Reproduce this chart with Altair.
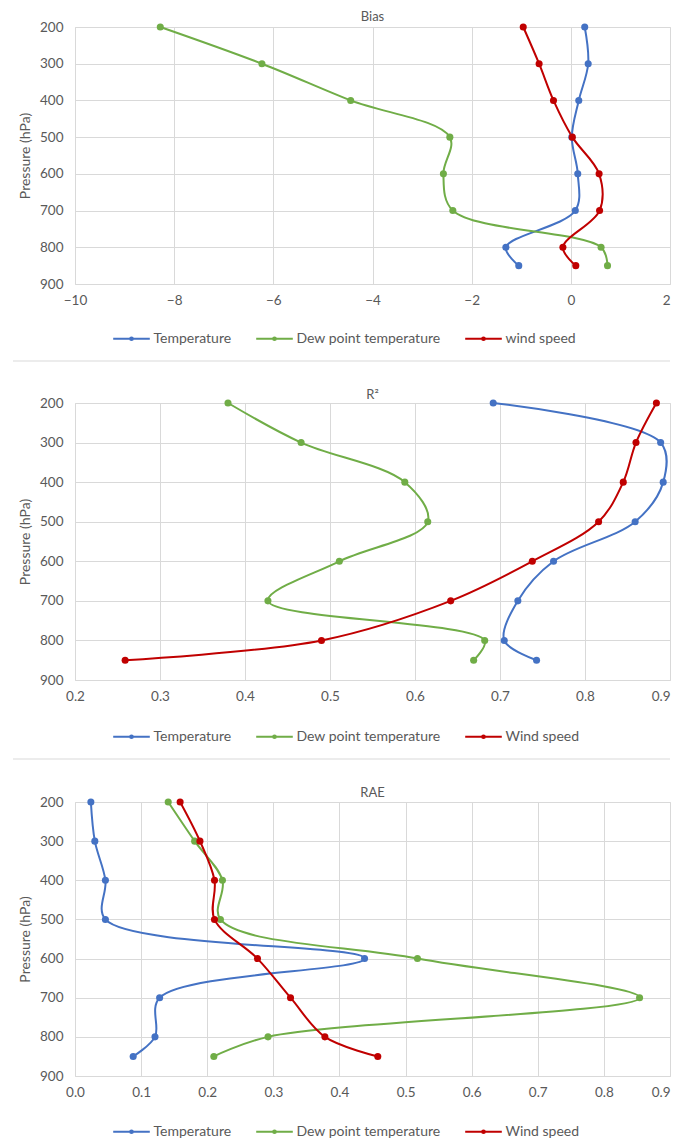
import altair as alt
import pandas as pd

pressure = [200, 300, 400, 500, 600, 700, 800, 850]

bias_temp = [0.28, 0.35, 0.16, 0.02, 0.14, 0.09, -1.31, -1.05]
bias_dew = [-8.28, -6.23, -4.44, -2.44, -2.57, -2.38, 0.61, 0.74]
bias_wind = [-0.96, -0.64, -0.35, 0.03, 0.57, 0.58, -0.16, 0.10]

r2_temp = [0.692, 0.889, 0.892, 0.859, 0.763, 0.721, 0.705, 0.743]
r2_dew = [0.380, 0.466, 0.588, 0.615, 0.511, 0.427, 0.682, 0.669]
r2_wind = [0.884, 0.860, 0.845, 0.816, 0.738, 0.642, 0.490, 0.259]

rae_temp = [0.024, 0.030, 0.046, 0.046, 0.438, 0.128, 0.121, 0.088]
rae_dew = [0.141, 0.181, 0.223, 0.220, 0.518, 0.854, 0.292, 0.210]
rae_wind = [0.159, 0.189, 0.211, 0.211, 0.276, 0.326, 0.378, 0.458]

colors = ["#4472C4", "#70AD47", "#C00000"]
FONT = "Lato"
GRAY = "#595959"
GRID = "#d9d9d9"
W = 595
# line with a dot in the middle (legend marker)
SYMBOL = "M-2,0 L2,0 M-0.15,0 A0.15,0.15 0 1,1 0.15,0 A0.15,0.15 0 1,1 -0.15,0 Z"


def make_df(series_names, values_list):
    rows = []
    for k, (name, vals) in enumerate(zip(series_names, values_list)):
        for p, v in zip(pressure, vals):
            rows.append({"series": name, "k": k, "pressure": p, "value": v})
    return pd.DataFrame(rows)


def panel(title, names, vals, xdom, xticks, height, title_off, legend_gap,
          rule_gap=None):
    df = make_df(names, vals)
    color = alt.Color(
        "series:N",
        scale=alt.Scale(domain=names, range=colors),
        sort=names,
        legend=alt.Legend(
            orient="none",
            legendX=46,
            legendY=height + legend_gap - 9,
            direction="horizontal",
            title=None,
            symbolType=SYMBOL,
            symbolSize=335,
            symbolStrokeWidth=2,
            labelFont=FONT,
            labelFontSize=14,
            labelColor=GRAY,
            labelOffset=11.5,
            columnPadding=20,
        ),
    )
    last = xticks[-1]
    x = alt.X(
        "value:Q",
        scale=alt.Scale(domain=xdom, nice=False, zero=False),
        axis=alt.Axis(values=xticks, title=None, grid=True, domain=False,
                      ticks=False, labelFont=FONT, labelFontSize=13.5,
                      labelColor=GRAY, labelPadding=9, labelFlush=False,
                      labelAlign=alt.condition(
                          f"datum.value >= {last} - 0.001",
                          alt.value("right"), alt.value("center")),
                      labelOverlap=False, gridColor=GRID),
    )
    y = alt.Y(
        "pressure:Q",
        scale=alt.Scale(domain=[200, 900], reverse=True, nice=False, zero=False),
        axis=alt.Axis(values=[200, 300, 400, 500, 600, 700, 800, 900],
                      title="Pressure (hPa)", grid=True, domain=False,
                      ticks=False, labelFont=FONT, labelFontSize=13.5,
                      labelColor=GRAY, titleFont=FONT, titleFontSize=14,
                      titleFontWeight="normal", titleColor=GRAY,
                      labelPadding=12, titlePadding=7, labelFlush=False,
                      labelOverlap=False, gridColor=GRID),
    )
    base = alt.Chart(df)
    line = base.mark_line(interpolate="catmull-rom", strokeWidth=2).encode(
        x=x, y=y, color=color, order=alt.Order("pressure:Q"),
        detail="series:N")
    pts = base.mark_point(filled=True, size=50, opacity=1).encode(
        x=x, y=y, color=color)
    layers = [line, pts]
    if rule_gap is not None:
        sep = alt.Chart(pd.DataFrame({"a": [0]})).mark_rule(
            color="#ececec", strokeWidth=2).encode(
            x=alt.value(-62), x2=alt.value(W),
            y=alt.value(height + rule_gap))
        layers.append(sep)
    return alt.layer(*layers).properties(
        width=W, height=height,
        title=alt.TitleParams(title, font=FONT, fontSize=13,
                              fontWeight="normal", color=GRAY,
                              offset=title_off),
    )


p1 = panel("Bias", ["Temperature", "Dew point temperature", "wind speed"],
           [bias_temp, bias_dew, bias_wind], [-10, 2],
           [-10, -8, -6, -4, -2, 0, 2], 257, -3.8, 53, 77)
p2 = panel("R²", ["Temperature", "Dew point temperature", "Wind speed"],
           [r2_temp, r2_dew, r2_wind], [0.2, 0.9],
           [0.2, 0.3, 0.4, 0.5, 0.6, 0.7, 0.8, 0.9], 277, -5.8, 55, 79)
p3 = panel("RAE", ["Temperature", "Dew point temperature", "Wind speed "],
           [rae_temp, rae_dew, rae_wind], [0, 0.9],
           [0, 0.1, 0.2, 0.3, 0.4, 0.5, 0.6, 0.7, 0.8, 0.9], 274, -4.8, 54)

chart = alt.vconcat(p1, p2, p3, spacing=25).resolve_scale(
    color="independent").configure_view(stroke=None).configure(
    padding={"left": 3, "top": 2, "right": 0, "bottom": 0})

chart.save("out.html", embed_options={"renderer": "svg", "actions": False})
